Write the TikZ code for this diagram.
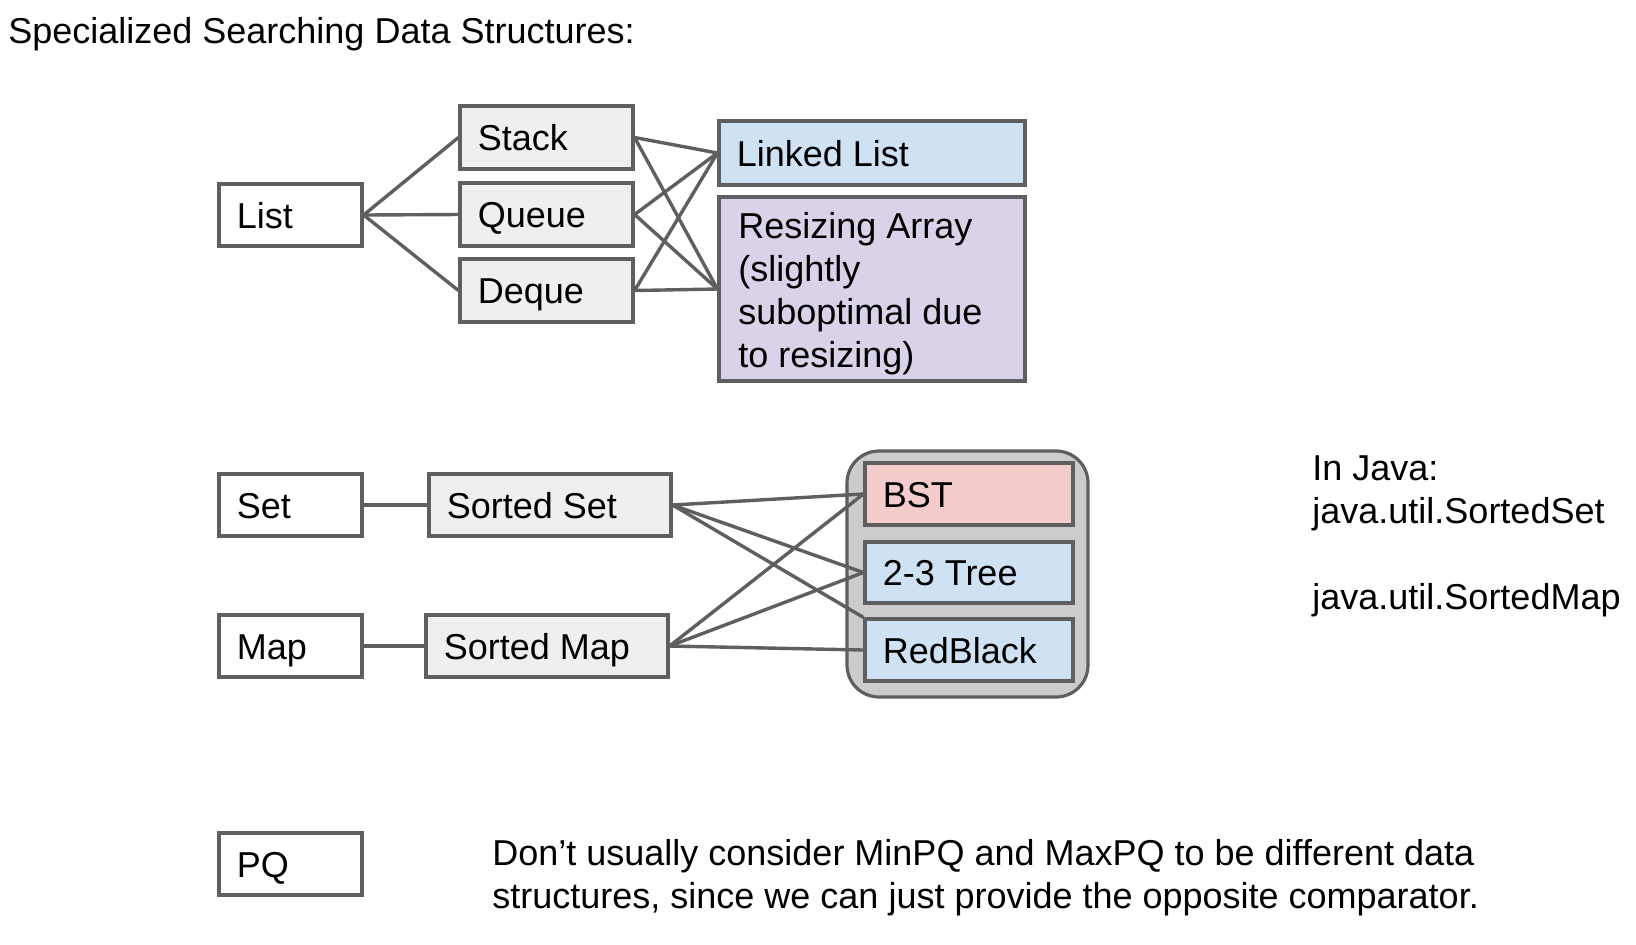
\documentclass[tikz,border=0pt]{standalone}
\usepackage{fontspec}
\setmainfont{Liberation Sans}
\usetikzlibrary{fit,calc}
\definecolor{edge}{HTML}{5F5F5F}
\definecolor{boxgray}{HTML}{EFEFEF}
\definecolor{llblue}{HTML}{CFE2F3}
\definecolor{lavender}{HTML}{D9D2E9}
\definecolor{bstpink}{HTML}{F4CCCC}
\definecolor{contgray}{HTML}{CCCCCC}
\begin{document}
\begin{tikzpicture}[x=0.5pt,y=-0.5pt,
  box/.style={draw=edge, line width=1.6pt, fill=white, inner sep=0pt},
  gbox/.style={box, fill=boxgray},
  lbl/.style={inner sep=0pt, anchor=base west, font=\fontsize{18}{21.5}\selectfont},
  mlbl/.style={inner sep=0pt, anchor=north west, align=left, font=\fontsize{18}{21.5}\selectfont},
  conn/.style={draw=edge, line width=1.7pt},
]
\useasboundingbox[fill=white] (0,0) rectangle (1636,944);

\node[lbl] (title) at (8,43) {Specialized Searching Data Structures:};

% list group
\node[box, fit={(219,184)(362,246)}] (list) {};
\node[gbox, fit={(460,106)(633,169)}] (stack) {};
\node[gbox, fit={(460,183)(633,246)}] (queue) {};
\node[gbox, fit={(460,259)(633,322)}] (deque) {};
\node[box, fill=llblue, fit={(719,121)(1025,185)}] (ll) {};
\node[box, fill=lavender, fit={(719,197)(1025,381)}] (ra) {};

\node[lbl] (list-t) at ($(list.west)+(19,13)$) {List};
\node[lbl] (stack-t) at ($(stack.west)+(19,13)$) {Stack};
\node[lbl] (queue-t) at ($(queue.west)+(19,13)$) {Queue};
\node[lbl] (deque-t) at ($(deque.west)+(19,13)$) {Deque};
\node[lbl] (ll-t) at ($(ll.west)+(19,13)$) {Linked List};
\node[mlbl] (ra-t) at (738,212) {Resizing Array\\(slightly\\suboptimal due\\to resizing)};

\draw[conn] (list.east) -- (stack.west);
\draw[conn] (list.east) -- (queue.west);
\draw[conn] (list.east) -- (deque.west);
\foreach \s in {stack,queue,deque}{
  \draw[conn] (\s.east) -- (ll.west);
  \draw[conn] (\s.east) -- (ra.west);
}

% set / map group
\node[draw=edge, line width=1.6pt, fill=contgray, rounded corners=16pt, inner sep=0pt, fit={(847,451)(1088,697)}] (cont) {};
\node[box, fill=bstpink, fit={(865,463)(1073,525)}] (bst) {};
\node[box, fill=llblue, fit={(865,542)(1073,603)}] (tt) {};
\node[box, fill=llblue, fit={(865,619)(1073,681)}] (rb) {};

\node[box, fit={(219,474)(362,536)}] (set) {};
\node[gbox, fit={(429,474)(671,536)}] (sset) {};
\node[box, fit={(219,615)(362,677)}] (map) {};
\node[gbox, fit={(426,615)(668,677)}] (smap) {};
\node[box, fit={(219,833)(362,895)}] (pq) {};

\node[lbl] (bst-t) at ($(bst.west)+(19,13)$) {BST};
\node[lbl] (tt-t) at ($(tt.west)+(19,13)$) {2-3 Tree};
\node[lbl] (rb-t) at ($(rb.west)+(19,13)$) {RedBlack};
\node[lbl] (set-t) at ($(set.west)+(19,13)$) {Set};
\node[lbl] (sset-t) at ($(sset.west)+(19,13)$) {Sorted Set};
\node[lbl] (map-t) at ($(map.west)+(19,13)$) {Map};
\node[lbl] (smap-t) at ($(smap.west)+(19,13)$) {Sorted Map};
\node[lbl] (pq-t) at ($(pq.west)+(19,13)$) {PQ};

\draw[conn] (set.east) -- (sset.west);
\draw[conn] (map.east) -- (smap.west);
\draw[conn] (sset.east) -- (bst.west);
\draw[conn] (sset.east) -- (tt.west);
\draw[conn] (sset.east) -- (rb.north west);
\draw[conn] (smap.east) -- (bst.west);
\draw[conn] (smap.east) -- (tt.west);
\draw[conn] (smap.east) -- (rb.west);

\node[mlbl] (java) at (1312,455) {In Java:\\java.util.SortedSet\\[21.5pt]java.util.SortedMap};
\node[mlbl] (note) at (492,839) {Don’t usually consider MinPQ and MaxPQ to be different data\\structures, since we can just provide the opposite comparator.};
\end{tikzpicture}
\end{document}
